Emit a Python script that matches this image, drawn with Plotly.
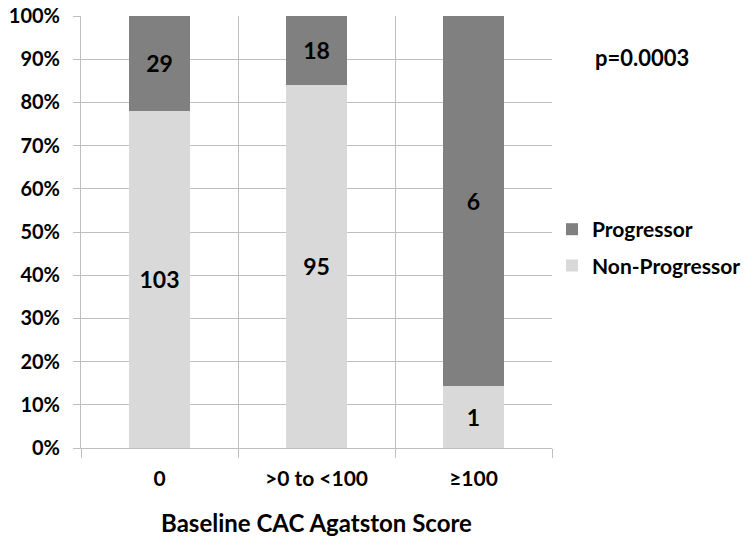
import plotly.graph_objects as go

categories = ["0", ">0 to <100", "≥100"]
non_progressor = [103, 95, 1]
progressor = [29, 18, 6]
y_ticks = [0, 0.1, 0.2, 0.3, 0.4, 0.5, 0.6, 0.7, 0.8, 0.9, 1.0]
y_tick_labels = ["0%", "10%", "20%", "30%", "40%", "50%", "60%", "70%", "80%", "90%", "100%"]

totals = [a + b for a, b in zip(non_progressor, progressor)]
np_pct = [a / t for a, t in zip(non_progressor, totals)]
p_pct = [b / t for b, t in zip(progressor, totals)]

FONT = "Lato"

fig = go.Figure()
fig.add_trace(go.Bar(
    x=categories, y=np_pct, name="Non-Progressor",
    marker=dict(color="#d9d9d9", line=dict(width=0)),
    text=[str(v) for v in non_progressor], textposition="inside",
    insidetextanchor="middle",
    textfont=dict(family=FONT, size=23, color="black", weight="bold"),
    legendgroup="np", legendrank=2, hoverinfo="skip",
))
fig.add_trace(go.Bar(
    x=categories, y=p_pct, name="Progressor",
    marker=dict(color="#808080", line=dict(width=0)),
    text=[str(v) for v in progressor], textposition="inside",
    insidetextanchor="middle",
    textfont=dict(family=FONT, size=23, color="black", weight="bold"),
    legendgroup="p", legendrank=1, hoverinfo="skip",
))

fig.update_layout(
    width=754, height=544,
    barmode="stack", bargap=0.61,
    plot_bgcolor="white", paper_bgcolor="white",
    margin=dict(l=81, r=202, t=16, b=96, autoexpand=False),
    font=dict(family=FONT, size=20, color="black", weight="bold"),
    uniformtext=dict(mode=False),
    legend=dict(
        x=1.0, y=0.464, xanchor="left", yanchor="middle",
        traceorder="grouped", tracegroupgap=6,
        font=dict(family=FONT, size=21, color="black", weight="bold"),
        bgcolor="rgba(0,0,0,0)",
    ),
    annotations=[dict(
        text="p=0.0003", x=1.191, y=0.905, xref="paper", yref="paper",
        showarrow=False, xanchor="center", yanchor="middle",
        font=dict(family=FONT, size=22, color="black", weight="bold"),
    )],
)

fig.update_xaxes(
    type="category", tickson="boundaries", automargin=False,
    showgrid=True, gridcolor="#bfbfbf", gridwidth=1,
    ticks="outside", ticklen=9, tickcolor="#bfbfbf",
    showline=True, linecolor="#bfbfbf", ticklabelstandoff=12,
    ticklabeloverflow="allow",
    tickfont=dict(family=FONT, size=21, color="black", weight="bold"),
    title=dict(text="Baseline CAC Agatston Score", standoff=25,
               font=dict(family=FONT, size=24, color="black", weight="bold")),
)
fig.update_yaxes(
    range=[0, 1], tickvals=y_ticks, ticktext=y_tick_labels, automargin=False,
    showgrid=True, gridcolor="#bfbfbf", gridwidth=1,
    ticks="outside", ticklen=7, tickcolor="#bfbfbf", ticklabelstandoff=9,
    ticklabeloverflow="allow",
    showline=True, linecolor="#bfbfbf", zeroline=False,
    tickfont=dict(family=FONT, size=20, color="black", weight="bold"),
)

# remove the browser's default 8px body margin so the 754x544 figure fills the window
fig.write_html("out.html", config={"displayModeBar": False},
               post_script="document.body.style.margin='0';")
